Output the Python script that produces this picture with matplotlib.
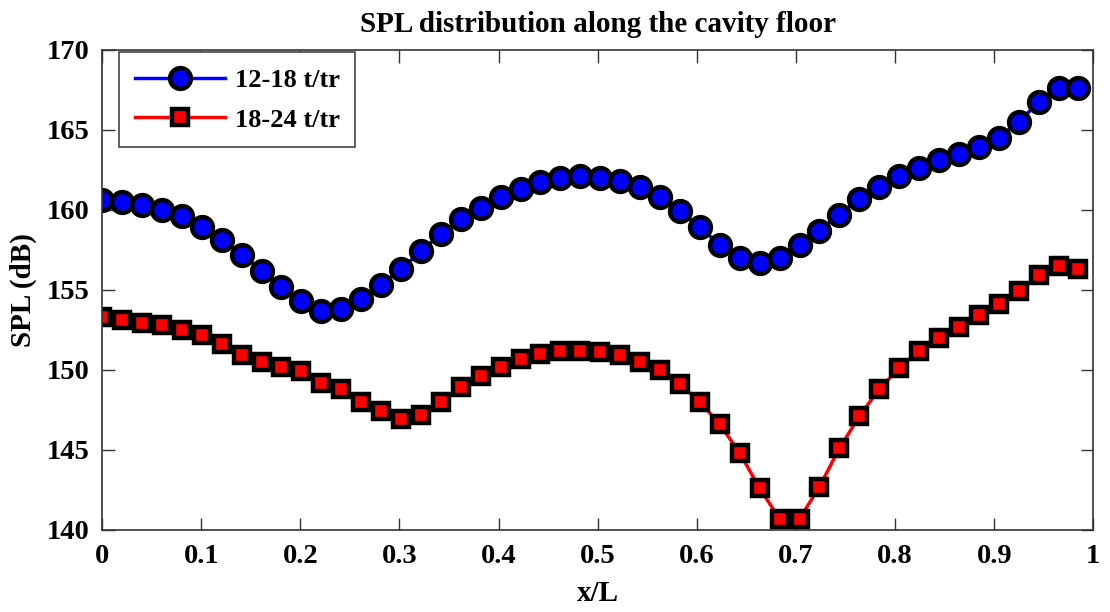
import matplotlib.pyplot as plt
import numpy as np

# x/L positions of the probes (uniform grid)
x_over_l = np.linspace(0.0, 0.985, 50)

spl_12_18 = [
    160.6, 160.5, 160.3, 160.0, 159.6, 158.9, 158.1, 157.2, 156.2, 155.2,
    154.3, 153.7, 153.8, 154.4, 155.3, 156.3, 157.4, 158.5, 159.4, 160.1,
    160.8, 161.3, 161.7, 162.0, 162.1, 162.0, 161.8, 161.4, 160.8, 159.9,
    158.9, 157.8, 157.0, 156.7, 157.0, 157.8, 158.7, 159.7, 160.7, 161.4,
    162.1, 162.6, 163.1, 163.5, 163.9, 164.5, 165.5, 166.7, 167.6, 167.6,
]

spl_18_24 = [
    153.3, 153.1, 152.9, 152.8, 152.5, 152.2, 151.6, 150.9, 150.5, 150.2,
    149.9, 149.2, 148.8, 148.0, 147.4, 146.9, 147.2, 148.0, 148.9, 149.6,
    150.2, 150.7, 151.0, 151.2, 151.2, 151.1, 150.9, 150.5, 150.0, 149.1,
    148.0, 146.6, 144.8, 142.6, 140.7, 140.7, 142.7, 145.1, 147.1, 148.8,
    150.1, 151.2, 152.0, 152.7, 153.4, 154.1, 154.9, 155.9, 156.5, 156.3,
]

series_labels = ["12-18 t/tr", "18-24 t/tr"]
x_ticks = [0, 0.1, 0.2, 0.3, 0.4, 0.5, 0.6, 0.7, 0.8, 0.9, 1]
x_tick_labels = ["0", "0.1", "0.2", "0.3", "0.4", "0.5", "0.6", "0.7", "0.8", "0.9", "1"]
y_ticks = [140, 145, 150, 155, 160, 165, 170]

plt.rcParams["font.family"] = ["Liberation Serif", "DejaVu Serif"]
plt.rcParams["font.weight"] = "bold"

fig = plt.figure(figsize=(11.1, 6.12), dpi=100)
ax = fig.add_axes([0.092, 0.134, 0.893, 0.785])

ax.plot(x_over_l, spl_12_18, color="blue", lw=2.5, marker="o", ms=15,
        mfc="blue", mec="black", mew=3.2, label=series_labels[0])
ax.plot(x_over_l, spl_18_24, color="red", lw=2.5, marker="s", ms=11.5,
        mfc="red", mec="black", mew=3.2, label=series_labels[1])

ax.set_xlim(0, 1)
ax.set_ylim(140, 170)
ax.set_xticks(x_ticks)
ax.set_xticklabels(x_tick_labels)
ax.set_yticks(y_ticks)
ax.tick_params(direction="in", length=9, width=1, top=True, right=True,
               labelsize=20.5, color="#333333")
ax.tick_params(axis="y", pad=9)
ax.tick_params(axis="x", pad=10)
for lab in ax.get_xticklabels() + ax.get_yticklabels():
    lab.set_fontweight("bold")
for side in ax.spines.values():
    side.set_linewidth(1.2)
    side.set_color("#333333")

ax.set_xlabel("x/L", fontsize=21, fontweight="bold", labelpad=8)
ax.set_ylabel("SPL (dB)", fontsize=21, fontweight="bold", labelpad=7)
ax.set_title("SPL distribution along the cavity floor", fontsize=21,
             fontweight="bold", pad=13)

leg = ax.legend(loc="upper left", bbox_to_anchor=(0.017, 0.994),
                borderaxespad=0, fancybox=False, framealpha=1,
                edgecolor="#444444", handlelength=3.4, handletextpad=0.38,
                borderpad=0.6, labelspacing=0.62,
                prop={"weight": "bold", "size": 19})
leg.get_frame().set_linewidth(1.2)

fig.savefig("out.png", dpi=100)
